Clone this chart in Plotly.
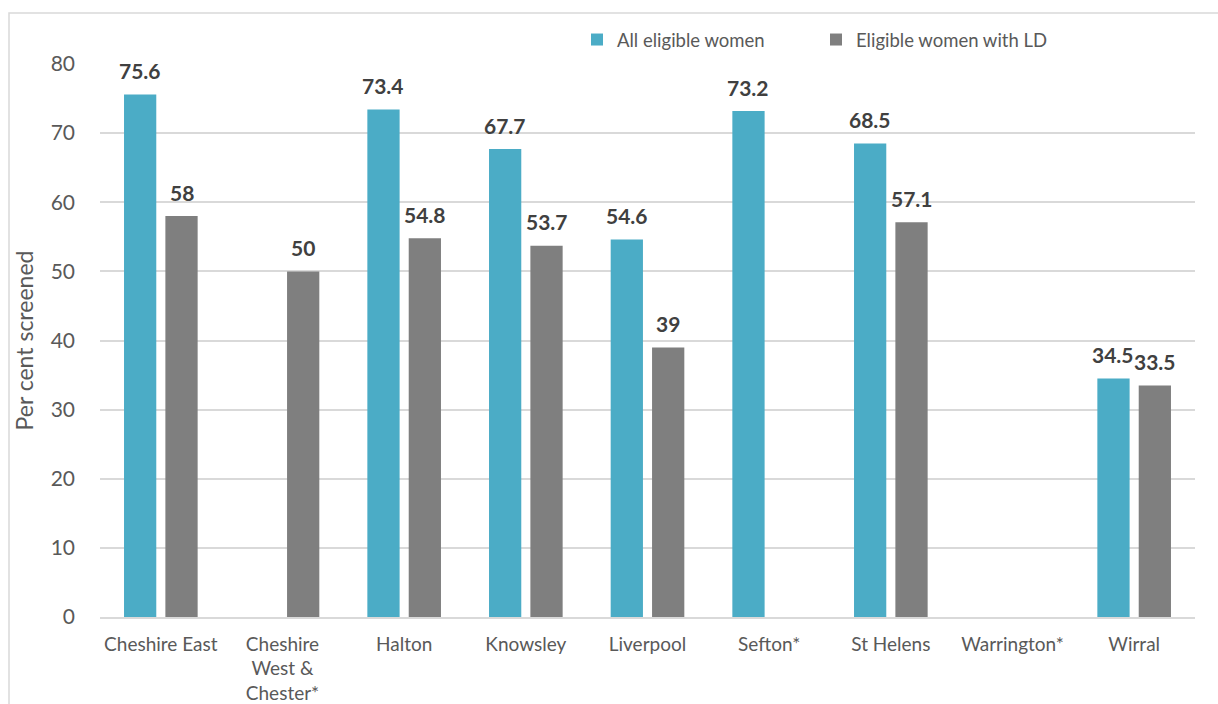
import plotly.graph_objects as go

categories = ["Cheshire East", "Cheshire<br>West &<br>Chester*", "Halton", "Knowsley",
              "Liverpool", "Sefton*", "St Helens", "Warrington*", "Wirral"]
all_women = [75.6, None, 73.4, 67.7, 54.6, 73.2, 68.5, None, 34.5]
ld_women = [58, 50, 54.8, 53.7, 39, None, 57.1, None, 33.5]
y_ticks = [0, 10, 20, 30, 40, 50, 60, 70, 80]
series_names = ["All eligible women", "Eligible women with LD"]
series_colors = ["#4BACC6", "#7F7F7F"]

def fmt(v):
    return str(int(v)) if float(v).is_integer() else str(v)

FONT = "Lato"
W, H = 1218, 704
L, R, T, B = 100, 23, 64, 87
pw, ph = W - L - R, H - T - B
BARGAP, GROUPGAP = 0.32, 0.22

def px_x(p):
    return (p - L) / pw

def px_y(p):
    return (H - B - p) / ph

fig = go.Figure()
annotations = []
cat_w = pw / len(categories)
slot = cat_w * (1 - BARGAP) / 2
for i, (vals, name, col) in enumerate(zip([all_women, ld_women], series_names, series_colors)):
    fig.add_trace(go.Bar(x=categories, y=vals, name=name, marker=dict(color=col, line=dict(width=0))))
    shift = (i - 0.5) * slot
    for c, v in zip(categories, vals):
        if v is None:
            continue
        annotations.append(dict(x=c, y=v, xref="x", yref="y", text=fmt(v), showarrow=False,
                                xshift=shift, yshift=24, yanchor="middle",
                                font=dict(family=FONT, size=21, color="#404040", weight="bold")))

fig.update_layout(
    width=W, height=H,
    margin=dict(l=L, r=R, t=T, b=B, autoexpand=False),
    paper_bgcolor="white", plot_bgcolor="white",
    font=dict(family=FONT, color="#595959", size=17),
    barmode="group", bargap=BARGAP, bargroupgap=GROUPGAP,
    showlegend=True,
    legend=dict(orientation="h", x=px_x(577), y=px_y(40), yanchor="middle", xanchor="left",
                entrywidth=194, entrywidthmode="pixels",
                font=dict(family=FONT, size=18.5, color="#595959"),
                bgcolor="rgba(0,0,0,0)"),
    xaxis=dict(showgrid=False, showline=True, linecolor="#D9D9D9", linewidth=1.5,
               ticklabelstandoff=9, automargin=False,
               tickfont=dict(family=FONT, size=19, color="#595959"), ticks=""),
    yaxis=dict(range=[0, 80], tickvals=y_ticks, showgrid=True, gridcolor="#D9D9D9",
               gridwidth=1.5, zeroline=False, showline=False, ticks="",
               ticklabelstandoff=24, automargin=False,
               tickfont=dict(family=FONT, size=21, color="#595959"),
               title=dict(text="Per cent screened", standoff=10,
                          font=dict(family=FONT, size=23, color="#595959"))),
    annotations=annotations,
    shapes=[
        dict(type="rect", xref="paper", yref="paper",
             x0=px_x(9), x1=px_x(1240), y0=px_y(13), y1=px_y(760),
             line=dict(color="#D9D9D9", width=1.5), fillcolor="rgba(0,0,0,0)", layer="below"),
        dict(type="rect", xref="paper", yref="paper",
             x0=px_x(510), x1=px_x(1200), y0=px_y(70), y1=px_y(20),
             line=dict(width=0), fillcolor="white", layer="between"),
    ],
)

fig.write_html("out.html")
